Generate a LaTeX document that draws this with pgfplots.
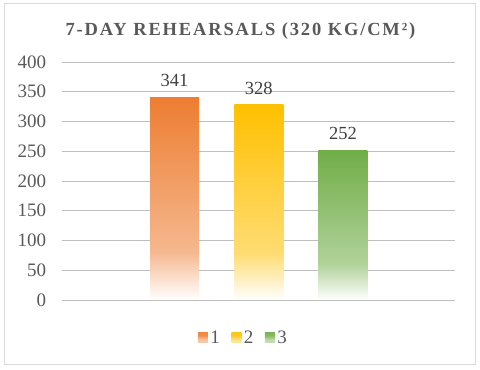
\documentclass[border=0pt]{standalone}
\usepackage{fontspec}
\setmainfont{Liberation Serif}
\newfontfamily\titlefont[LetterSpace=10]{Liberation Serif}
\usepackage{pgfplots}
\pgfplotsset{compat=1.18}
\definecolor{corange}{RGB}{237,125,49}
\definecolor{cgold}{RGB}{255,192,0}
\definecolor{cgreen}{RGB}{112,173,71}
\definecolor{tgray}{RGB}{89,89,89}
\definecolor{lgray}{RGB}{64,64,64}
\definecolor{grid}{RGB}{217,217,217}
\pgfdeclareverticalshading{oshade}{100bp}{color(0bp)=(white); color(25bp)=(white); color(37bp)=(corange!55!white); color(75bp)=(corange); color(100bp)=(corange)}
\pgfdeclareverticalshading{gshade}{100bp}{color(0bp)=(white); color(25bp)=(white); color(37bp)=(cgold!55!white); color(75bp)=(cgold); color(100bp)=(cgold)}
\pgfdeclareverticalshading{vshade}{100bp}{color(0bp)=(white); color(25bp)=(white); color(37bp)=(cgreen!55!white); color(75bp)=(cgreen); color(100bp)=(cgreen)}
\pgfdeclareverticalshading{olshade}{100bp}{color(0bp)=(corange!35!white); color(40bp)=(corange!45!white); color(60bp)=(corange!85!white); color(100bp)=(corange)}
\pgfdeclareverticalshading{glshade}{100bp}{color(0bp)=(cgold!35!white); color(40bp)=(cgold!45!white); color(60bp)=(cgold!85!white); color(100bp)=(cgold)}
\pgfdeclareverticalshading{vlshade}{100bp}{color(0bp)=(cgreen!35!white); color(40bp)=(cgreen!45!white); color(60bp)=(cgreen!85!white); color(100bp)=(cgreen)}
\begin{document}
\begin{tikzpicture}
\path[use as bounding box] (0,0) rectangle (480pt,370pt);
\draw[grid, line width=0.8pt] (4pt,6pt) rectangle (475pt,367pt);
\node[font=\titlefont\bfseries\fontsize{18.5}{21}\selectfont, text=tgray] at (240.5pt,339pt) {7-DAY REHEARSALS (320 KG/CM²)};
\begin{axis}[
  at={(61.7pt,70pt)}, anchor=south west,
  scale only axis, width=393.6pt, height=238pt,
  xmin=-0.341, xmax=4.334, ymin=0, ymax=400,
  ytick={0,50,...,400}, xtick=\empty,
  ymajorgrids, grid style={grid, line width=0.8pt},
  axis line style={draw=none}, major tick length=0pt,
  /pgf/number format/assume math mode=true,
  yticklabel style={font=\fontsize{19}{21}\selectfont, text=tgray, xshift=-12pt},
  ybar, bar width=49pt, bar shift=0pt,
  nodes near coords,
  every node near coord/.append style={font=\fontsize{18.5}{20}\selectfont, text=lgray, yshift=7pt},
  clip=false,
  legend columns=3,
  legend style={draw=none, fill=none, at={(0.462,-0.158)}, anchor=center,
    font=\fontsize{19}{21}\selectfont, text=tgray,
    nodes={font=\fontsize{19}{21}\selectfont, inner xsep=2.5pt},
    /tikz/every even column/.append style={column sep=9pt}},
]
\addplot[draw=none, shade, shading=oshade,
  legend image code/.code={\shade[shading=olshade] (0pt,-5pt) rectangle (10pt,5pt);}]
  coordinates {(1,341)};
\addlegendentry{1}
\addplot[draw=none, shade, shading=gshade,
  legend image code/.code={\shade[shading=glshade] (0pt,-5pt) rectangle (10pt,5pt);}]
  coordinates {(2,328)};
\addlegendentry{2}
\addplot[draw=none, shade, shading=vshade,
  legend image code/.code={\shade[shading=vlshade] (0pt,-5pt) rectangle (10pt,5pt);}]
  coordinates {(3,252)};
\addlegendentry{3}
\end{axis}
\end{tikzpicture}
\end{document}
